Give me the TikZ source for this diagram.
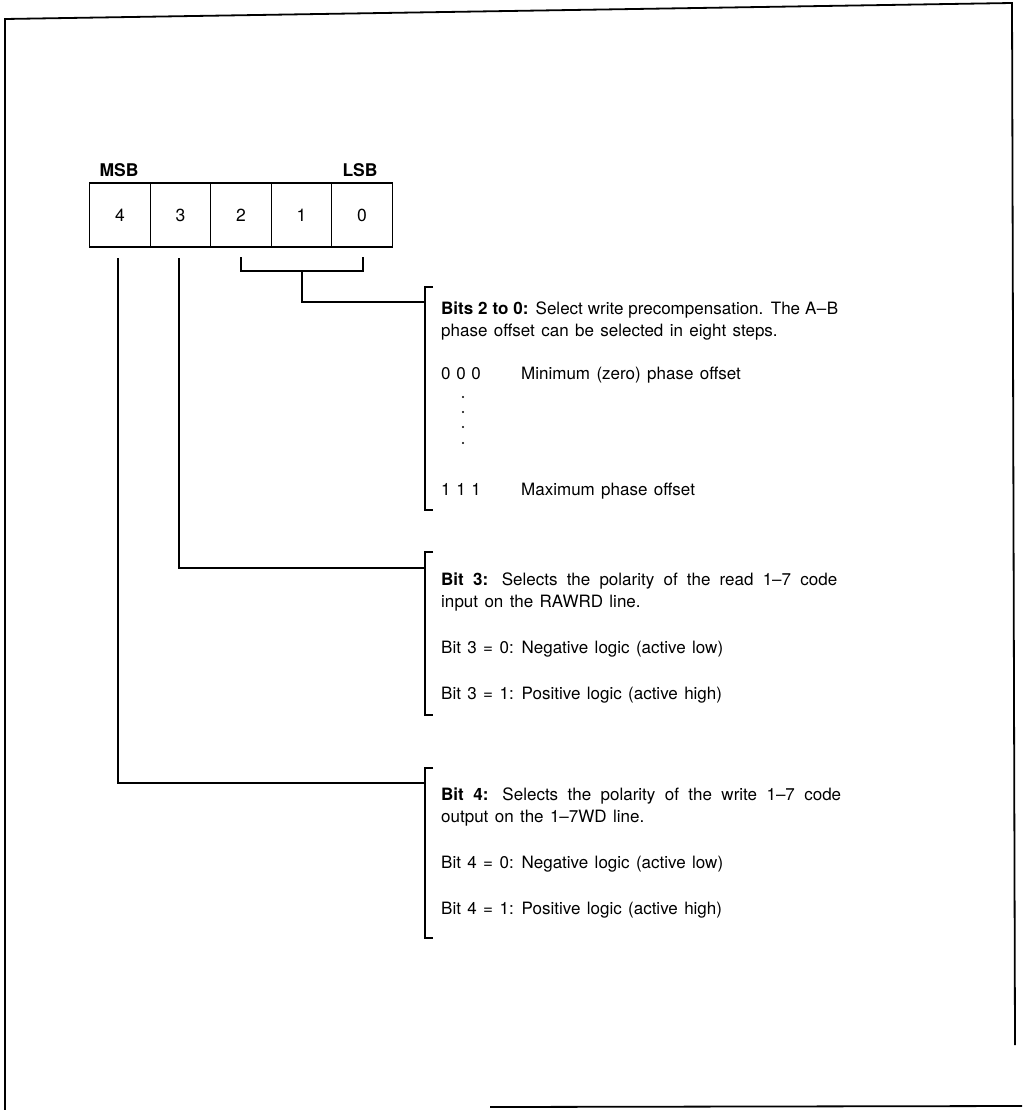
\documentclass[tikz,border=0pt]{standalone}
\usepackage{fontspec}
\setmainfont[WordSpace=1.35]{TeX Gyre Heros}
\begin{document}
\begin{tikzpicture}[x=1pt,y=-1pt,
  cell/.style={draw,line width=1.3pt,minimum width=60.5pt,minimum height=64pt,inner sep=0pt,font=\fontsize{17.5}{20}\selectfont},
  lbl/.style={inner sep=0pt,font=\bfseries\fontsize{17.5}{20}\selectfont},
  txt/.style={anchor=base west,inner sep=0pt,font=\fontsize{17}{20}\selectfont},
  conn/.style={line width=1.3pt},
  frame/.style={line width=1.8pt}]
\useasboundingbox (0,0) rectangle (1022,1110);
% frame
\coordinate (fbl) at (5,1110);
\coordinate (ftl) at (5,19);
\coordinate (ftr) at (1012,3);
\coordinate (fbr) at (1015,1045);
\coordinate (bl1) at (490,1107);
\coordinate (bl2) at (1022,1106);
\draw[frame] (fbl) -- (ftl) -- (ftr) -- (fbr);
\draw[frame] (bl1) -- (bl2);
% register
\node[cell] (c4) at (120,215) {4};
\node[cell] (c3) at (180.5,215) {3};
\node[cell] (c2) at (241,215) {2};
\node[cell] (c1) at (301.5,215) {1};
\node[cell] (c0) at (362,215) {0};
\node[lbl] (msb) at (119,170) {MSB};
\node[lbl] (lsb) at (360,170) {LSB};
% text brackets
\coordinate (b1t) at (425,287); \coordinate (b1b) at (425,510);
\coordinate (b2t) at (425,552); \coordinate (b2b) at (425,715);
\coordinate (b3t) at (425,768); \coordinate (b3b) at (425,938);
\draw[conn] ([xshift=8pt]b1t) -- (b1t) -- (b1b) -- ([xshift=8pt]b1b);
\draw[conn] ([xshift=8pt]b2t) -- (b2t) -- (b2b) -- ([xshift=8pt]b2b);
\draw[conn] ([xshift=8pt]b3t) -- (b3t) -- (b3b) -- ([xshift=8pt]b3b);
% bits 2..0 bracket
\coordinate (g2) at (241,257);
\coordinate (g0) at (363,257);
\coordinate (gm) at (302,271);
\coordinate (e1) at (425,302);
\draw[conn] (g2) -- (241,271) -- (363,271) -- (g0);
\draw[conn] (gm) -- (gm |- e1) -- (e1);
% bit 3 and bit 4 connectors
\coordinate (s3) at (179,258);
\coordinate (e2) at (425,568);
\draw[conn] (s3) -- (s3 |- e2) -- (e2);
\coordinate (s4) at (118,258);
\coordinate (e3) at (425,783);
\draw[conn] (s4) -- (s4 |- e3) -- (e3);
% texts block 1
\node[txt] (t1a) at (441,314) {\makebox[397pt][s]{\textbf{Bits 2 to 0:} Select write precompensation. The A\kern.5pt--\kern.5pt B}};
\node[txt] (t1b) at (441,336) {phase offset can be selected in eight steps.};
\node[txt] (t1c) at (441,379) {0\,\,0\,\,0};
\node[txt] (t1d) at (521,379) {Minimum (zero) phase offset};
\foreach \yy/\nm in {397/d1,412/d2,427/d3,443/d4}
  \fill (463,\yy) circle (1.1pt) coordinate (\nm);
\node[txt] (t1e) at (441,495) {1\,\,1\,\,1};
\node[txt] (t1f) at (521,495) {Maximum phase offset};
% block 2
\node[txt] (t2a) at (441,585) {\makebox[396pt][s]{\textbf{Bit 3:} Selects the polarity of the read 1--7 code}};
\node[txt] (t2b) at (441,607) {input on the RAWRD line.};
\node[txt] (t2c) at (441,653) {Bit 3 = 0: Negative logic (active low)};
\node[txt] (t2d) at (441,699) {Bit 3 = 1: Positive logic (active high)};
% block 3
\node[txt] (t3a) at (441,800) {\makebox[400pt][s]{\textbf{Bit 4:} Selects the polarity of the write 1--7 code}};
\node[txt] (t3b) at (441,822) {output on the 1--7WD line.};
\node[txt] (t3c) at (441,868) {Bit 4 = 0: Negative logic (active low)};
\node[txt] (t3d) at (441,914) {Bit 4 = 1: Positive logic (active high)};
\end{tikzpicture}
\end{document}
